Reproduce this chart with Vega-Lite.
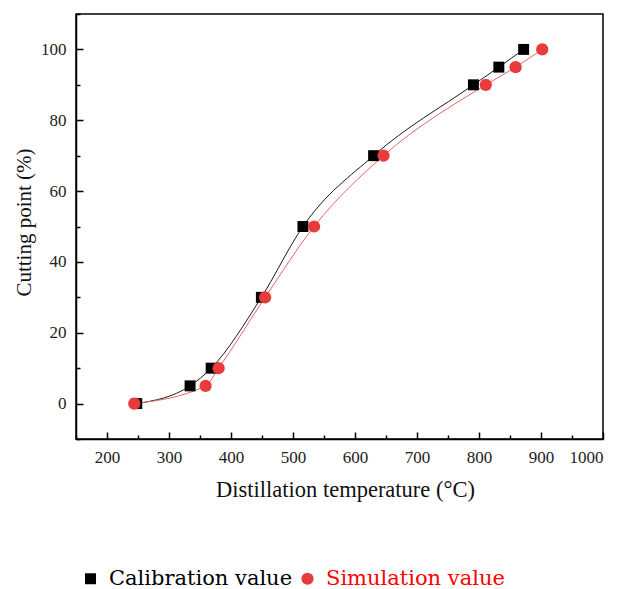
{
  "$schema": "https://vega.github.io/schema/vega-lite/v6.json",
  "width": 527,
  "height": 425,
  "autosize": {"type": "none"},
  "padding": {"left": 76, "top": 14, "right": 19, "bottom": 150},
  "background": "white",
  "config": {
    "view": {"stroke": "black", "strokeWidth": 1.5},
    "font": "Liberation Serif, Times New Roman, serif",
    "axis": {
      "domainColor": "black",
      "domainWidth": 1.5,
      "tickColor": "black",
      "tickWidth": 1.5,
      "grid": false,
      "labelFont": "Liberation Serif, Times New Roman, serif",
      "labelFontSize": 17,
      "labelColor": "#222",
      "titleFont": "Liberation Serif, Times New Roman, serif",
      "titleFontWeight": "normal",
      "titleColor": "#111"
    }
  },
  "data": {
    "values": [
      {"series": "Calibration value", "temp": 248, "cut": 0},
      {"series": "Calibration value", "temp": 334, "cut": 5},
      {"series": "Calibration value", "temp": 368, "cut": 10},
      {"series": "Calibration value", "temp": 449, "cut": 30},
      {"series": "Calibration value", "temp": 516, "cut": 50},
      {"series": "Calibration value", "temp": 630, "cut": 70},
      {"series": "Calibration value", "temp": 791, "cut": 90},
      {"series": "Calibration value", "temp": 832, "cut": 95},
      {"series": "Calibration value", "temp": 872, "cut": 100},
      {"series": "Simulation value", "temp": 244, "cut": 0},
      {"series": "Simulation value", "temp": 359, "cut": 5},
      {"series": "Simulation value", "temp": 380, "cut": 10},
      {"series": "Simulation value", "temp": 455, "cut": 30},
      {"series": "Simulation value", "temp": 534, "cut": 50},
      {"series": "Simulation value", "temp": 646, "cut": 70},
      {"series": "Simulation value", "temp": 811, "cut": 90},
      {"series": "Simulation value", "temp": 859, "cut": 95},
      {"series": "Simulation value", "temp": 902, "cut": 100}
    ]
  },
  "resolve": {"axis": {"x": "independent", "y": "independent"}},
  "layer": [
    {
      "mark": {"type": "point", "opacity": 0},
      "encoding": {
        "x": {
          "field": "temp", "type": "quantitative",
          "scale": {"domain": [150, 1000], "nice": false, "zero": false},
          "axis": {
            "orient": "bottom",
            "values": [150, 250, 350, 450, 550, 650, 750, 850, 950],
            "labels": false, "domain": false, "tickSize": -4, "title": null
          }
        },
        "y": {
          "field": "cut", "type": "quantitative",
          "scale": {"domain": [-10, 110], "nice": false, "zero": false},
          "axis": {
            "orient": "left",
            "values": [-10, 10, 30, 50, 70, 90, 110],
            "labels": false, "domain": false, "tickSize": -4, "title": null
          }
        }
      }
    },
    {
      "transform": [{"filter": "datum.series === 'Calibration value'"}],
      "mark": {"type": "line", "interpolate": "monotone", "color": "#1a1a1a", "strokeWidth": 1},
      "encoding": {
        "x": {
          "field": "temp", "type": "quantitative",
          "title": "Distillation temperature (°C)",
          "axis": {
            "orient": "bottom",
            "values": [200, 300, 400, 500, 600, 700, 800, 900, 1000],
            "format": "d",
            "tickSize": -7, "labelPadding": 17, "titlePadding": 13,
            "titleFontSize": 22.5, "titleX": 269
          }
        },
        "y": {
          "field": "cut", "type": "quantitative",
          "title": "Cutting point (%)",
          "axis": {
            "orient": "left",
            "values": [0, 20, 40, 60, 80, 100],
            "format": "d",
            "tickSize": -7, "labelPadding": 17, "titlePadding": 6,
            "titleFontSize": 21, "titleY": 208
          }
        }
      }
    },
    {
      "transform": [{"filter": "datum.series === 'Simulation value'"}],
      "mark": {"type": "line", "interpolate": "monotone", "color": "#e06868", "strokeWidth": 1},
      "encoding": {
        "x": {"field": "temp", "type": "quantitative", "axis": null},
        "y": {"field": "cut", "type": "quantitative", "axis": null}
      }
    },
    {
      "mark": {"type": "point", "filled": true, "opacity": 1},
      "encoding": {
        "x": {"field": "temp", "type": "quantitative", "axis": null},
        "y": {"field": "cut", "type": "quantitative", "axis": null},
        "color": {
          "field": "series", "type": "nominal",
          "scale": {"domain": ["Calibration value", "Simulation value"], "range": ["#000000", "#e83c3c"]},
          "legend": {
            "title": null,
            "orient": "none",
            "legendX": 4,
            "legendY": 554,
            "direction": "horizontal",
            "columns": 2,
            "columnPadding": 4,
            "symbolSize": 170,
            "labelFont": "DejaVu Serif",
            "labelFontSize": 21,
            "labelOffset": 8,
            "labelLimit": 400,
            "labelColor": {"expr": "datum.value === 'Simulation value' ? '#ff0000' : '#000000'"},
            "encode": {
              "symbols": {"update": {"fill": {"signal": "datum.value === 'Simulation value' ? '#ff0000' : '#000000'"}, "stroke": {"value": "transparent"}}}
            }
          }
        },
        "shape": {
          "field": "series", "type": "nominal",
          "scale": {"domain": ["Calibration value", "Simulation value"], "range": ["square", "circle"]}
        },
        "size": {
          "field": "series", "type": "nominal",
          "scale": {"domain": ["Calibration value", "Simulation value"], "range": [120, 150]},
          "legend": null
        }
      }
    }
  ]
}
